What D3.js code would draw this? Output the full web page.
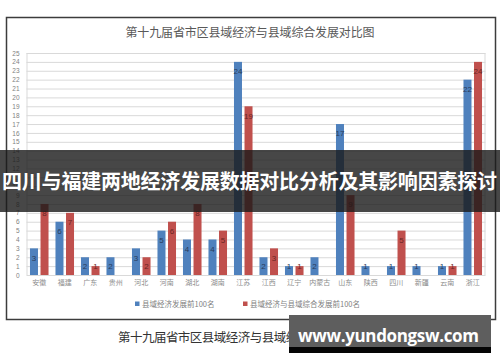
<!DOCTYPE html>
<html>
<head>
<meta charset="utf-8">
<script src="https://cdn.jsdelivr.net/npm/d3@7"></script>
<style>
  body { margin: 0; background: #fff; }
  svg { display: block; font-family: "Noto Sans CJK SC", "Noto Sans", sans-serif; }
</style>
</head>
<body>
<svg id="chart" width="500" height="362"></svg>
<script>
// chart data
const provinces = ['安徽', '福建', '广东', '贵州', '河北', '河南', '湖北', '湖南', '江苏',
  '江西', '辽宁', '内蒙古', '山东', '陕西', '四川', '新疆', '云南', '浙江'];
const seriesNames = ['县域经济发展前100名', '县域经济与县域综合发展前100名'];
const economyTop100 = [3, 6, 2, 2, 3, 5, 4, 4, 24, 2, 1, 2, 17, 1, 1, 1, 1, 22];
const combinedTop100 = [8, 7, 1, 0, 2, 6, 8, 5, 19, 3, 1, 0, 9, 0, 5, 0, 1, 24];
const yTicks = d3.range(0, 26);

const chartTitle = '第十九届省市区县域经济与县域综合发展对比图';
const bannerText = '四川与福建两地经济发展数据对比分析及其影响因素探讨';
const watermark = 'www.yundongsw.com';

const colors = ['#4f81bd', '#c0504d'];
const labelColors = ['#2a3c5c', '#6a2624'];

const svg = d3.select('#chart');

// outer frame of the chart screenshot
svg.append('rect')
  .attr('x', 6.5).attr('y', 17.5)
  .attr('width', 489).attr('height', 302)
  .style('fill', '#fff')
  .style('stroke', '#3c3c3c')
  .style('stroke-width', 1.5);

svg.append('text')
  .attr('x', 250).attr('y', 37)
  .attr('text-anchor', 'middle')
  .attr('textLength', 249)
  .style('font-size', '12px')
  .style('fill', '#595959')
  .text(chartTitle);

const plot = { left: 26.5, right: 485.5, top: 53, bottom: 275 };

const x = d3.scaleBand().domain(provinces).range([plot.left, plot.right]).padding(0);
const x1 = d3.scaleBand().domain([0, 1]).range([0, x.bandwidth()])
  .paddingInner(0.24).paddingOuter(0.33);
const y = d3.scaleLinear().domain([0, 25]).range([plot.bottom, plot.top]);

// grid
const g = svg.append('g');
g.selectAll('.grid')
  .data(yTicks)
  .enter()
  .append('line')
  .attr('class', 'grid')
  .attr('x1', plot.left).attr('x2', plot.right)
  .attr('y1', d => y(d) + 0.5).attr('y2', d => y(d) + 0.5)
  .style('stroke', '#d9d9d9')
  .style('stroke-width', 1);

g.append('line')
  .attr('x1', plot.left + 0.5).attr('x2', plot.left + 0.5)
  .attr('y1', plot.top).attr('y2', plot.bottom)
  .style('stroke', '#d9d9d9');
g.append('line')
  .attr('x1', plot.right - 0.5).attr('x2', plot.right - 0.5)
  .attr('y1', plot.top).attr('y2', plot.bottom)
  .style('stroke', '#d9d9d9');

// y axis labels
const yAxis = d3.axisLeft(y).tickValues(yTicks).tickSize(0).tickPadding(7);
svg.append('g')
  .attr('transform', `translate(${plot.left},0)`)
  .call(yAxis)
  .call(a => a.select('.domain').remove())
  .call(a => a.selectAll('text')
    .style('font-size', '6.5px')
    .style('fill', '#7f7f7f')
    .style('font-family', '"Liberation Sans", sans-serif'));

// x axis labels
const xAxis = d3.axisBottom(x).tickSize(0).tickPadding(5);
svg.append('g')
  .attr('transform', `translate(0,${plot.bottom})`)
  .call(xAxis)
  .call(a => a.select('.domain').remove())
  .call(a => a.selectAll('text')
    .style('font-size', '7px')
    .style('fill', '#8c8c8c')
    .style('font-family', '"Noto Sans CJK SC", sans-serif'));

// bars
const rows = provinces.map((p, i) => ({ p, vals: [economyTop100[i], combinedTop100[i]] }));

const groups = svg.selectAll('.gGroup')
  .data(rows)
  .enter()
  .append('g')
  .attr('class', 'gGroup')
  .attr('transform', d => `translate(${x(d.p)},0)`);

const bars = groups.selectAll('.gBar')
  .data(d => d.vals.map((v, k) => ({ v, k })).filter(d => d.v > 0))
  .enter()
  .append('g')
  .attr('class', 'gBar');

bars.append('rect')
  .attr('x', d => x1(d.k))
  .attr('width', x1.bandwidth())
  .attr('y', d => y(d.v))
  .attr('height', d => plot.bottom - y(d.v))
  .style('fill', d => colors[d.k]);

bars.append('text')
  .attr('x', d => x1(d.k) + x1.bandwidth() / 2)
  .attr('y', d => Math.min(y(d.v) + 9.5, plot.bottom - 9))
  .attr('dy', '0.35em')
  .attr('text-anchor', 'middle')
  .style('font-size', '8px')
  .style('font-family', '"Liberation Sans", sans-serif')
  .style('fill', d => labelColors[d.k])
  .text(d => d.v);

// legend
const legendItems = [
  { name: seriesNames[0], x: 135, color: colors[0] },
  { name: seriesNames[1], x: 243, color: colors[1] }
];
const legend = svg.selectAll('.legend')
  .data(legendItems)
  .enter()
  .append('g')
  .attr('class', 'legend')
  .attr('transform', d => `translate(${d.x},304)`);
legend.append('rect')
  .attr('x', 0).attr('y', -2.5)
  .attr('width', 4.5).attr('height', 4.5)
  .style('fill', d => d.color);
legend.append('text')
  .attr('x', 7).attr('dy', '0.35em')
  .style('font-size', '7.5px')
  .style('fill', '#7f7f7f')
  .text(d => d.name);

// caption under the chart
svg.append('text')
  .attr('x', 118).attr('y', 342)
  .attr('textLength', 252)
  .style('font-size', '12.5px')
  .style('fill', '#333')
  .text(chartTitle);

// dark banner across the middle
svg.append('rect')
  .attr('x', 0).attr('y', 150)
  .attr('width', 500).attr('height', 62)
  .style('fill', 'rgba(25,25,25,0.8)');
svg.append('text')
  .attr('x', 2).attr('y', 182)
  .attr('dy', '0.35em')
  .attr('textLength', 495)
  .style('font-size', '20px')
  .style('font-weight', 'bold')
  .style('fill', '#fff')
  .text(bannerText);

// watermark box
svg.append('rect')
  .attr('x', 289).attr('y', 315)
  .attr('width', 202).attr('height', 38)
  .style('fill', '#050505');
svg.append('rect')
  .attr('x', 289).attr('y', 315)
  .attr('width', 202).attr('height', 32)
  .style('fill', '#5e5e5e');
svg.append('text')
  .attr('x', 298).attr('y', 342)
  .attr('textLength', 181)
  .style('font-size', '17px')
  .style('font-weight', 'bold')
  .style('font-family', '"Open Sans", "DejaVu Sans", sans-serif')
  .style('fill', '#fff')
  .text(watermark);
</script>
</body>
</html>
